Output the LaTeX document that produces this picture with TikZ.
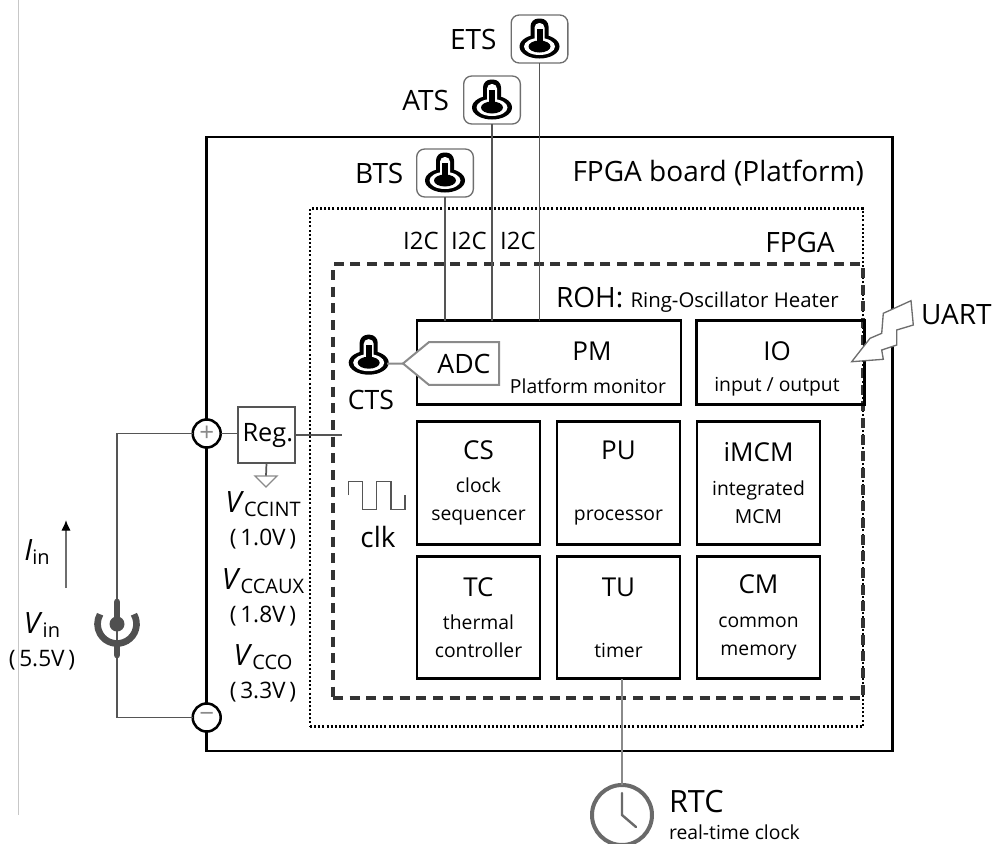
\documentclass[tikz,border=0pt]{standalone}
\usepackage{fontspec}
\setmainfont{Open Sans}
\usepackage{tikz}
\usetikzlibrary{arrows.meta,positioning,shapes.symbols,calc}

\definecolor{wiregray}{HTML}{555555}
\definecolor{icongray}{HTML}{505050}
\definecolor{softgray}{HTML}{8A8A8A}
\newcommand{\bigtxt}{\fontsize{21}{25}\selectfont}
\newcommand{\titletxt}{\fontsize{19.5}{23}\selectfont}
\newcommand{\midtxt}{\fontsize{17}{21}\selectfont}
\newcommand{\smalltxt}{\fontsize{14.5}{21}\selectfont}
\newcommand{\subtxt}{\fontsize{15}{15}\selectfont}
\newcommand{\volt}[2]{\textit{\fontsize{22}{22}\selectfont V}\raisebox{-3pt}{\subtxt #1}\\[4pt]\midtxt (\,#2\,)}

\begin{document}
\begin{tikzpicture}[x=0.75pt,y=-0.75pt,
    every node/.style={inner sep=0pt, outer sep=0pt},
    boardbox/.style={draw, line width=1.9pt, minimum width=514.5pt, minimum height=460.5pt},
    fpgabox/.style={draw=black, line width=2.1pt, dash pattern=on 1.5pt off 1.6pt, minimum width=414.75pt, minimum height=388.5pt},
    rohbox/.style={draw=black!80, line width=2.4pt, dash pattern=on 7.5pt off 5pt, minimum width=397.5pt, minimum height=325.5pt},
    block/.style={draw, line width=2.2pt, minimum width=92.25pt, minimum height=92pt, align=center, font=\smalltxt},
    wide/.style={draw, line width=2.2pt, minimum height=63pt},
    sensor/.style={draw=softgray!80!black, line width=1pt, rounded corners=6pt, minimum width=42.5pt, minimum height=36pt},
    lab/.style={font=\bigtxt},
    mid/.style={font=\midtxt},
    small/.style={font=\smalltxt},
    rail/.style={draw, circle, fill=white, line width=1.9pt, minimum size=21pt, text=softgray, font=\titletxt},
    wire/.style={wiregray, line width=1.3pt},
    thermo/.pic={
      \fill[black, rounded corners=6pt] (-9,3) rectangle (9,-28);
      \fill[black] (0,0) ellipse [x radius=20, y radius=12];
      \fill[white, rounded corners=3.5pt] (-5,3) rectangle (5,-23.5);
      \fill[white] (0,0) ellipse [x radius=15.5, y radius=8.5];
      \fill[black] (-3,0) rectangle (3,-18);
      \fill[black] (0,0) ellipse [x radius=11, y radius=6];
    }
  ]
    \useasboundingbox (0,0) rectangle (996,843);

    \coordinate (edgeA) at (18,0);
    \coordinate (edgeB) at (18,815);
    \draw[black!22, line width=0.7pt] (edgeA) -- (edgeB);

    \node[boardbox] (board) at (549.3,444) {};
    \node[fpgabox] (fpga) at (586.5,467.5) {};
    \node[rohbox] (roh) at (598,481) {};

    \node[wide, minimum width=198pt] (pm) at (549,362.5) {};
    \node[wide, minimum width=125.5pt] (io) at (780.5,362.5) {};
    \node[block] (cs) at (478.5,483) {\titletxt CS\\[4pt]\smalltxt clock\\sequencer};
    \node[block] (pu) at (618.5,483) {\titletxt PU\\[4pt]\smalltxt \strut\\processor};
    \node[block] (imcm) at (758.5,483) {\titletxt iMCM\\[4pt]\smalltxt integrated\\MCM};
    \node[block] (tc) at (478.5,617.5) {\titletxt TC\\[4pt]\smalltxt thermal\\controller};
    \node[block] (tu) at (618.5,617.5) {\titletxt TU\\[4pt]\smalltxt \strut\\timer};
    \node[block] (cm) at (758.5,617.5) {\titletxt CM\\[4pt]\smalltxt common\\memory};

    \node[font=\titletxt] (pmlab) at (592,351) {PM};
    \node[small] (pmsub) at (588,386) {Platform monitor};
    \node[font=\titletxt] (iolab) at (777,351) {IO};
    \node[small] (iosub) at (777,387) {input / output};

    \node[sensor] (ets) at (539.5,39) {};
    \node[sensor] (ats) at (492,100) {};
    \node[sensor] (bts) at (445,173) {};
    \pic at (539.5,46.5) {thermo};
    \pic at (492,107.5) {thermo};
    \pic at (445,180.5) {thermo};
    \node[lab, left=11pt of ets.west, anchor=east] (etslab) {ETS};
    \node[lab, left=11pt of ats.west, anchor=east] (atslab) {ATS};
    \node[lab, left=10pt of bts.west, anchor=east] (btslab) {BTS};

    \draw[wire] (ets.south) -- (ets.south |- pm.north);
    \draw[wire] (ats.south) -- (ats.south |- pm.north);
    \draw[wire] (bts.south) -- (bts.south |- pm.north);

    \node[lab, anchor=east] (boardlab) at (864,173) {FPGA board (Platform)};
    \node[lab] (fpgalab) at (800,242) {FPGA};
    \node[font=\fontsize{18}{21}\selectfont] (i2ca) at (421,241) {I2C};
    \node[font=\fontsize{18}{21}\selectfont] (i2cb) at (469,241) {I2C};
    \node[font=\fontsize{18}{21}\selectfont] (i2cc) at (518,241) {I2C};
    \node[anchor=base west] (rohlab) at (556,307) {\bigtxt ROH: \fontsize{15.3}{21}\selectfont Ring-Oscillator Heater};

    % temperature sensor on the die
    \coordinate (cts) at (368.7,362.7);
    \pic at (cts) {thermo};
    \node[signal, signal to=west, signal pointer angle=79, draw=softgray, line width=1.5pt, fill=white, minimum width=72pt, minimum height=32pt, font=\fontsize{20}{24}\selectfont, anchor=west] (adc) at (403,363.5) {\raisebox{-2pt}{ADC}\hspace{15pt}};
    \draw[softgray, line width=1.5pt] (cts -| 387,0) ++(0,0.8) -- (adc.west);
    \node[font=\fontsize{20}{24}\selectfont] (ctslab) at (371,400) {CTS};

    \coordinate (clkA) at (348.3,495);
    \draw[wiregray, line width=1pt] (clkA) -- ++(0,-13.3) -- ++(14,0) -- ++(0,27.6) -- ++(14.4,0) -- ++(0,-27.6) -- ++(14.3,0) -- ++(0,27.6) -- ++(14,0) -- ++(0,-14.3);
    \node[lab] (clktxt) at (378,537) {clk};

    % power input
    \node[rail] (plus) at (206.7,433.5) {+};
    \node[rail] (minus) at (206.7,717.5) {−};
    \node[draw=wiregray, line width=1.3pt, fill=white, minimum width=43pt, minimum height=42pt, font=\fontsize{19}{23}\selectfont] (reg) at (266.5,435) {\hspace{2pt}Reg.};
    \coordinate (regout) at (342,435);
    \coordinate (gnd) at (266,476);
    \draw[wire] (plus.east) -- (plus.east -| reg.west);
    \draw[wire] (reg.east) -- (regout);
    \draw[wire] (reg.south) -- (gnd);
    \draw[softgray, line width=1pt] (gnd) ++(-11,0) -- ++(22,0) -- ++(-11,11) -- cycle;

    \node[align=center, font=\midtxt] (vccint) at (263,520) {\volt{CCINT}{1.0V}};
    \node[align=center, font=\midtxt] (vccaux) at (263,597) {\volt{CCAUX}{1.8V}};
    \node[align=center, font=\midtxt] (vcco) at (263,673) {\volt{CCO}{3.3V}};
    \node[align=center, font=\midtxt] (vin) at (42,641) {\volt{in}{5.5V}};
    \node[font=\midtxt] (iin) at (37,552) {\textit{\fontsize{22}{22}\selectfont I}\raisebox{-3pt}{\subtxt in}};

    \coordinate (plugc) at (117,624);
    \draw[wire] (plus.west) -| (plugc);
    \draw[wire] (plugc) |- (minus.west);
    \draw[icongray, line width=5pt, line cap=round] (plugc) -- ++(0,-22);
    \fill[icongray] (plugc) circle [radius=7.5];
    \draw[icongray, line width=5pt] ($(plugc)+(16.9,-9.75)$) arc [start angle=-30, end angle=210, radius=19.5];
    \draw[icongray, line width=5pt, line cap=round] (plugc) ++(0,20) -- ++(0,11);

    \coordinate (iinA) at (66,588);
    \coordinate (iinB) at (66,520);
    \draw[softgray!80!black, line width=1pt, -{Latex[black,length=8pt,width=7pt]}] (iinA) -- (iinB);

    % clock
    \node[circle, draw=icongray!85, line width=3pt, fill=white, minimum size=45pt] (rtc) at (622,815) {};
    \draw[softgray, line width=2pt] (rtc.north) -- (rtc.north |- tu.south);
    \draw[icongray!85, line width=1.8pt, line cap=round] (rtc.center) ++(0,-22) -- (rtc.center) -- ++(14,12);
    \node[font=\fontsize{23}{25}\selectfont, anchor=base west] (rtclab) at (669,812) {RTC};
    \node[small, anchor=base west] (rtcsub) at (669,839) {real-time clock};

    % wireless link
    \draw[softgray!80!black, line width=1pt, fill=white] (851.7,361.7) -- (870,338.3) -- (881.7,333.3) -- (883.3,313.3) -- (911,300.7) -- (913.3,325) -- (896.7,330) -- (896.7,345) -- (881.7,350) -- (883.3,359.3) -- cycle;
    \node[lab, anchor=west] (uart) at (921,315) {UART};
\end{tikzpicture}
\end{document}
